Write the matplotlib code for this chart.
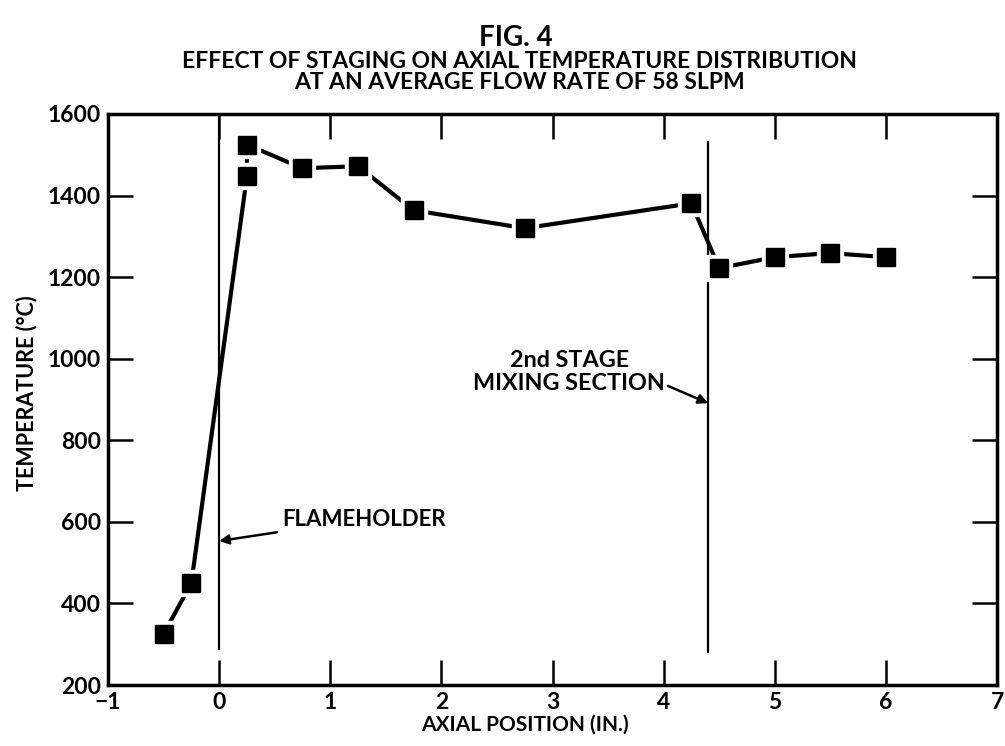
import matplotlib
matplotlib.use("Agg")
import matplotlib.pyplot as plt

x_pos = [-0.5, -0.25, 0.25, 0.25, 0.75, 1.25, 1.75, 2.75, 4.25, 4.5, 5.0, 5.5, 6.0]
temps = [325, 450, 1447, 1525, 1467, 1472, 1364, 1320, 1381, 1222, 1249, 1259, 1249]
x_ticks = [-1, 0, 1, 2, 3, 4, 5, 6, 7]
y_ticks = [200, 400, 600, 800, 1000, 1200, 1400, 1600]
flameholder_x = 0.0
mixing_x = 4.4

plt.rcParams['font.family'] = ['Lato', 'DejaVu Sans']
plt.rcParams['font.weight'] = 'bold'

fig = plt.figure(figsize=(10.05, 7.46), dpi=100)
ax = fig.add_axes([108/1005, 1-685/746, (997-108)/1005, (685-114)/746])

ax.set_xlim(-1, 7)
ax.set_ylim(200, 1600)

# reference lines
ax.plot([flameholder_x, flameholder_x], [288, 1600], color='black', lw=1.6, zorder=1)
ax.plot([mixing_x, mixing_x], [280, 1532], color='black', lw=1.6, zorder=1)

# data
ax.plot(x_pos, temps, color='black', lw=3.0, zorder=2)
ax.plot(x_pos, temps, 's', ms=19, color='white', zorder=3)
ax.plot(x_pos, temps, 's', ms=13, color='black', zorder=4)

ax.set_xticks(x_ticks)
ax.set_yticks(y_ticks)
ax.tick_params(direction='in', length=18, width=1.8, top=True, right=True,
               labelsize=16.5, pad=5)
for lab in ax.get_xticklabels() + ax.get_yticklabels():
    lab.set_fontweight('bold')
for sp in ax.spines.values():
    sp.set_linewidth(2.5)

fig.text(525/1005, 1-725/746, 'AXIAL POSITION (IN.)', fontsize=15, fontweight='bold',
         ha='center', va='center')
fig.text(27/1005, 1-393/746, 'TEMPERATURE (°C)', fontsize=15.5, fontweight='bold',
         ha='center', va='center', rotation=90)

# annotations
ax.annotate('FLAMEHOLDER', xy=(flameholder_x, 553), xytext=(0.57, 607),
            fontsize=16, fontweight='bold', ha='left', va='center',
            arrowprops=dict(arrowstyle='-|>', color='black', lw=1.8,
                            mutation_scale=14, shrinkA=2, shrinkB=0))
ax.annotate('2nd STAGE\nMIXING SECTION', xy=(mixing_x, 891), xytext=(3.15, 967),
            fontsize=16.8, fontweight='bold', ha='center', va='center',
            linespacing=1.15,
            arrowprops=dict(arrowstyle='-|>', color='black', lw=1.8,
                            mutation_scale=14, shrinkA=0, shrinkB=0,
                            relpos=(1.0, 0.22)))

fig.text(516/1005, 1-38/746, 'FIG. 4', fontsize=20, fontweight='bold', ha='center', va='center')
fig.text(519/1005, 1-72/746,
         'EFFECT OF STAGING ON AXIAL TEMPERATURE DISTRIBUTION\nAT AN AVERAGE FLOW RATE OF 58 SLPM',
         fontsize=16.5, fontweight='bold', ha='center', va='center', linespacing=1.05)

fig.savefig('out.png', dpi=100)
